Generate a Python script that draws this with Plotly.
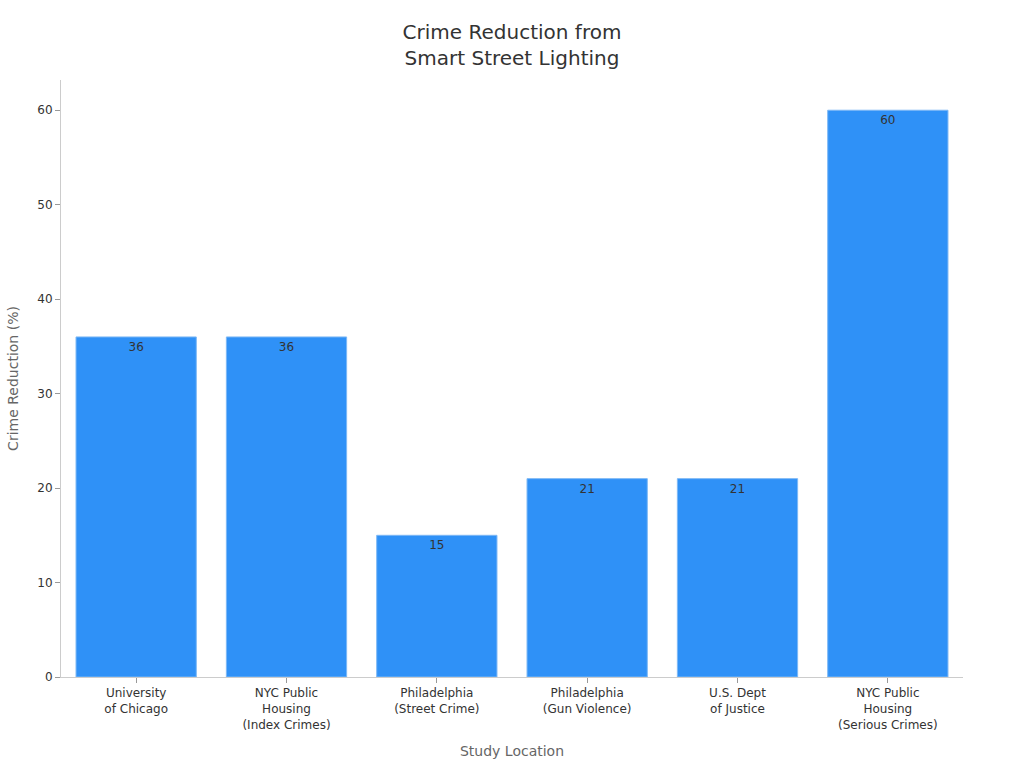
import plotly.graph_objects as go

categories = [
    "University<br>of Chicago",
    "NYC Public<br>Housing<br>(Index Crimes)",
    "Philadelphia<br>(Street Crime)",
    "Philadelphia<br>(Gun Violence)",
    "U.S. Dept<br>of Justice",
    "NYC Public<br>Housing<br>(Serious Crimes)",
]
values = [36, 36, 15, 21, 21, 60]

fig = go.Figure(go.Bar(
    x=categories,
    y=values,
    text=[str(v) for v in values],
    textposition="inside",
    insidetextanchor="end",
    textfont=dict(size=12, color="#333333"),
    marker=dict(color="#2F91F7", line=dict(color="#7db8f5", width=1)),
    width=0.8,
))

fig.update_layout(
    width=1024, height=768,
    paper_bgcolor="white", plot_bgcolor="white",
    font=dict(family="DejaVu Sans", color="#333333", size=12),
    title=dict(text="Crime Reduction from<br>Smart Street Lighting", x=0.5, xanchor="center",
               y=0.949, yanchor="top", font=dict(size=20, color="#333333")),
    margin=dict(l=61, r=61, t=80, b=91),
    showlegend=False,
    bargap=0.2,
)
fig.update_xaxes(
    title=dict(text="Study Location", font=dict(size=14, color="#666666"), standoff=15),
    showline=True, linecolor="#cccccc", linewidth=1,
    ticks="outside", ticklen=5, tickcolor="#999999",
    tickfont=dict(size=12, color="#333333"),
)
fig.update_yaxes(
    title=dict(text="Crime Reduction (%)", font=dict(size=14, color="#666666"), standoff=15),
    range=[0, 63.2], dtick=10,
    showline=True, linecolor="#cccccc", linewidth=1,
    showgrid=False, zeroline=False,
    ticks="outside", ticklen=5, tickcolor="#999999",
    tickfont=dict(size=12, color="#333333"),
)

fig.write_html("out.html")
